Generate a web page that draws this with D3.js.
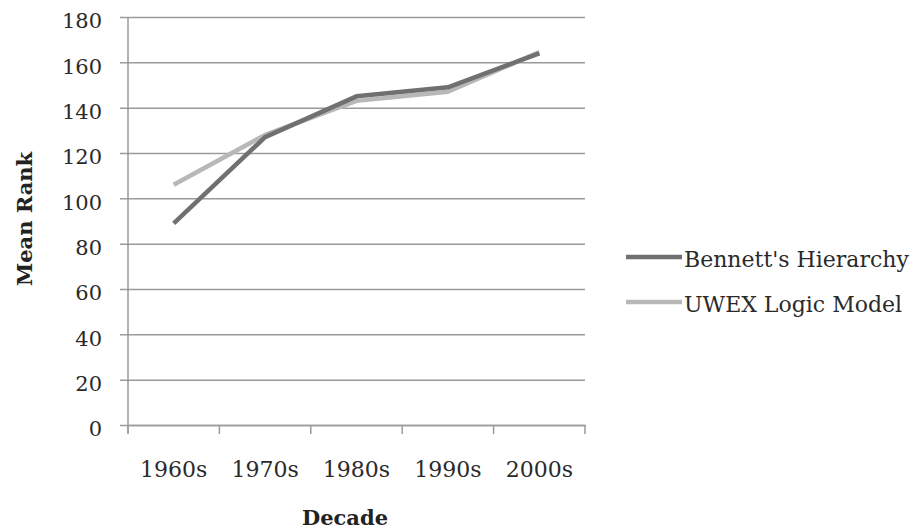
<!DOCTYPE html>
<html><head><meta charset="utf-8">
<script src="https://cdn.jsdelivr.net/npm/d3@7"></script>
<style>body{margin:0;background:#fff}svg{display:block}</style>
</head><body>
<svg id="c" width="914" height="531"></svg>
<script>
const categories = ["1960s","1970s","1980s","1990s","2000s"];
const bennett = [89, 127, 145, 149, 164];
const uwex = [106, 128, 143, 147, 164.5];
const yTicks = [0,20,40,60,80,100,120,140,160,180];
const seriesNames = ["Bennett's Hierarchy","UWEX Logic Model"];
const seriesColors = ["#707070","#b8b8b8"];

(function(){
const svg = d3.select("#c");
const pL = 128, pR = 585, pT = 17, pB = 425;
const x = d3.scaleBand().domain(categories).range([pL, pR]);
const y = d3.scaleLinear().domain([0,180]).range([pB, pT]);
const font = "'DejaVu Serif', serif";
const fs = 22;

const ya = svg.append("g").attr("transform",`translate(${pL},0)`)
  .call(d3.axisLeft(y).tickValues(yTicks).tickSize(8).tickFormat(""));
ya.select(".domain").remove();
ya.selectAll(".tick line").attr("x1", -8).attr("x2", pR-pL).attr("stroke","#9a9a9a").attr("stroke-width",1.5);
svg.append("g").selectAll("text").data(yTicks).join("text")
  .attr("x", 102).attr("y", d=>y(d)+4).attr("dy","0.35em").attr("text-anchor","end")
  .attr("font-family",font).attr("font-size",21).attr("fill","#2a2a2a").text(d=>d);
svg.append("line").attr("x1",pL).attr("x2",pL).attr("y1",pT).attr("y2",pB+8).attr("stroke","#9a9a9a").attr("stroke-width",1.5);
const xa = svg.append("g").attr("transform",`translate(0,${pB})`)
  .call(d3.axisBottom(x).tickSize(0).tickFormat(""));
xa.select(".domain").attr("stroke","#9a9a9a").attr("stroke-width",1.5);
const bounds = categories.map(c=>x(c)).concat([pR]);
svg.append("g").selectAll("line").data(bounds).join("line")
  .attr("x1",d=>d).attr("x2",d=>d).attr("y1",pB).attr("y2",pB+9)
  .attr("stroke","#9a9a9a").attr("stroke-width",1.5);
svg.append("g").selectAll("text").data(categories).join("text")
  .attr("x",d=>x(d)+x.bandwidth()/2).attr("y",469).attr("dy","0.35em").attr("text-anchor","middle")
  .attr("font-family",font).attr("font-size",fs).attr("fill","#2a2a2a").text(d=>d);

const line = d3.line().x((d,i)=>x(categories[i])+x.bandwidth()/2).y(d=>y(d));
[[uwex,1],[bennett,0]].forEach(([s,idx])=>{
  svg.append("path").datum(s).attr("d",line).attr("fill","none")
    .attr("stroke",seriesColors[idx]).attr("stroke-width",4.5).attr("stroke-linejoin","round");
});

svg.append("text").attr("transform","translate(32,219) rotate(-90)").attr("text-anchor","middle")
  .attr("font-family",font).attr("font-weight","bold").attr("font-size",21).attr("fill","#222").text("Mean Rank");
svg.append("text").attr("x",345).attr("y",525).attr("text-anchor","middle")
  .attr("font-family",font).attr("font-weight","bold").attr("font-size",21).attr("fill","#222").text("Decade");

seriesNames.forEach((n,i)=>{
  const yy = 257 + i*45;
  svg.append("line").attr("x1",626).attr("x2",682).attr("y1",yy).attr("y2",yy)
    .attr("stroke",seriesColors[i]).attr("stroke-width",4.5);
  svg.append("text").attr("x",684).attr("y",yy+2).attr("dy","0.35em")
    .attr("font-family",font).attr("font-size",fs).attr("fill","#2a2a2a").text(n);
});
})();
</script>
</body></html>
